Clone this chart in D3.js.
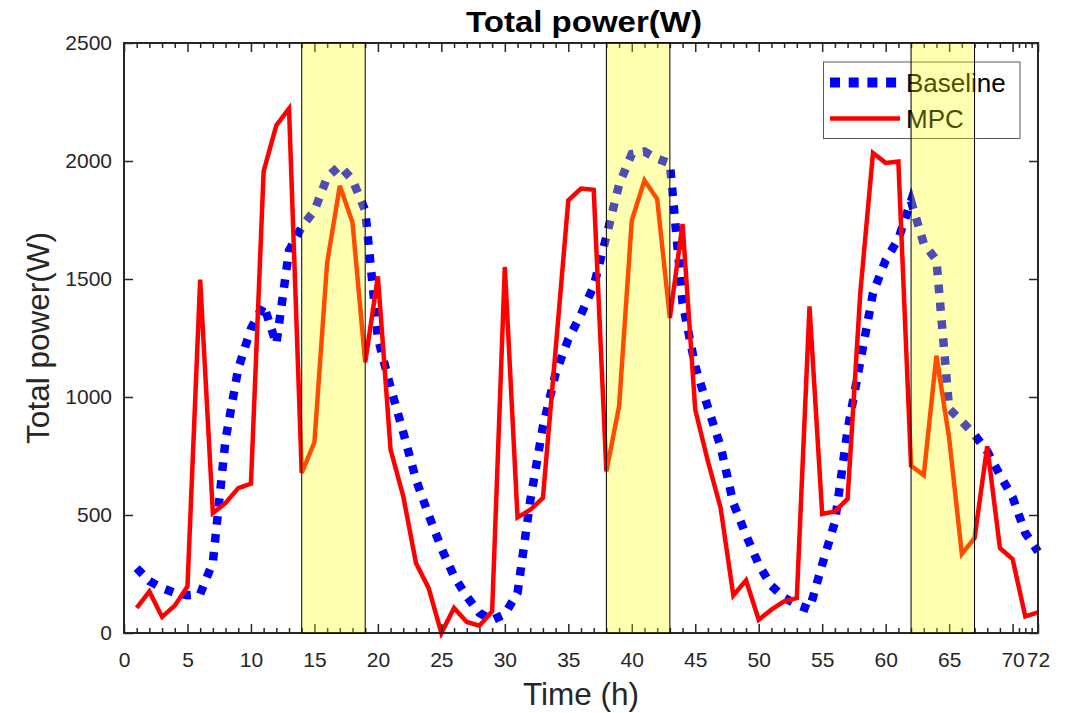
<!DOCTYPE html>
<html>
<head>
<meta charset="utf-8">
<script src="https://cdn.jsdelivr.net/npm/d3@7"></script>
<style>
  html, body { margin: 0; padding: 0; background: #fff; }
  svg { display: block; font-family: "Liberation Sans", Arial, Helvetica, sans-serif; }
</style>
</head>
<body>
<svg id="chart" width="1069" height="713"></svg>
<script>
// ---------------- data ----------------
const hours = [1,2,3,4,5,6,7,8,9,10,11,12,13,14,15,16,17,18,19,20,21,22,23,24,25,26,27,28,29,30,31,32,33,34,35,36,
               37,38,39,40,41,42,43,44,45,46,47,48,49,50,51,52,53,54,55,56,57,58,59,60,61,62,63,64,65,66,67,68,69,70,71,72];
const baseline = [275,220,190,170,160,165,300,820,1120,1290,1390,1225,1620,1720,1790,1930,1980,1920,1790,1250,1040,850,650,500,
                  360,240,155,85,55,80,170,560,875,1100,1245,1350,1470,1680,1900,2030,2040,2010,1990,1400,1130,955,790,550,
                  415,290,200,150,120,100,290,470,860,1150,1440,1580,1670,1830,1650,1580,950,897,840,770,670,575,424,345];
const mpc = [106,176,68,116,197,1497,508,551,614,633,1956,2151,2222,678,808,1568,1895,1740,1147,1511,777,579,297,190,
             0,106,47,31,92,1551,490,522,572,1200,1833,1883,1878,685,960,1748,1918,1839,1335,1733,946,727,530,159,
             223,56,99,134,148,1384,504,515,568,1440,2034,1992,1998,709,668,1175,826,335,402,791,360,313,70,87];
const shadeStart = [14, 38, 62];
const shadeEnd   = [19, 43, 67];
const xTickValues = [0,5,10,15,20,25,30,35,40,45,50,55,60,65,70,72];
const xMinorTicks = [1,2,3,4,6,7,8,9,11,12,13,14,16,17,18,19,21,22,23,24,26,27,28,29,31,32,33,34,36,37,38,39,
                     41,42,43,44,46,47,48,49,51,52,53,54,56,57,58,59,61,62,63,64,66,67,68,69,70.5,71,71.5];
const yTickValues = [0,500,1000,1500,2000,2500];
const seriesNames = ["Baseline", "MPC"];
const titleText = "Total power(W)";
const xLabelText = "Time (h)";
const yLabelText = "Total power(W)";

// ---------------- layout ----------------
const L = 124, R = 1038, T = 43, B = 633;
const svg = d3.select("#chart");
const x = d3.scaleLinear().domain([0, 72]).range([L, R]);
const y = d3.scaleLinear().domain([0, 2500]).range([B, T]);
const axisColor = "#262626";

// lines
const line = d3.line().x((d, i) => x(hours[i])).y(d => y(d));

svg.append("path")
  .datum(baseline)
  .attr("d", line)
  .attr("fill", "none")
  .attr("stroke", "#0000ff")
  .attr("stroke-width", 8.5)
  .attr("stroke-dasharray", "8.5,9.5")
  .attr("stroke-linecap", "butt");

svg.append("path")
  .datum(mpc)
  .attr("d", line)
  .attr("fill", "none")
  .attr("stroke", "#ff0000")
  .attr("stroke-width", 4.5)
  .attr("stroke-linejoin", "miter");

// axes
function styleAxis(g) {
  g.select(".domain").remove();
  g.selectAll(".tick line").attr("stroke", axisColor).attr("stroke-width", 1.5);
  g.selectAll(".tick text").attr("fill", axisColor).attr("font-size", 21)
    .attr("font-family", "'Liberation Sans', Arial, Helvetica, sans-serif");
}

svg.append("g").attr("transform", `translate(0,${B})`)
  .call(d3.axisBottom(x).tickValues(xTickValues).tickFormat(d3.format("d")).tickSizeInner(-9).tickSizeOuter(0).tickPadding(19))
  .call(styleAxis);
svg.append("g").attr("transform", `translate(0,${B})`)
  .call(d3.axisBottom(x).tickValues(xMinorTicks).tickFormat("").tickSizeInner(-5).tickSizeOuter(0))
  .call(styleAxis);
svg.append("g").attr("transform", `translate(0,${T})`)
  .call(d3.axisTop(x).tickValues(xTickValues).tickFormat("").tickSizeInner(-9).tickSizeOuter(0))
  .call(styleAxis);
svg.append("g").attr("transform", `translate(0,${T})`)
  .call(d3.axisTop(x).tickValues(xMinorTicks).tickFormat("").tickSizeInner(-5).tickSizeOuter(0))
  .call(styleAxis);
svg.append("g").attr("transform", `translate(${L},0)`)
  .call(d3.axisLeft(y).tickValues(yTickValues).tickFormat(d3.format("d")).tickSizeInner(-9).tickSizeOuter(0).tickPadding(12))
  .call(styleAxis);
svg.append("g").attr("transform", `translate(${R},0)`)
  .call(d3.axisRight(y).tickValues(yTickValues).tickFormat("").tickSizeInner(-9).tickSizeOuter(0))
  .call(styleAxis);

// box
svg.append("rect")
  .attr("x", L).attr("y", T).attr("width", R - L).attr("height", B - T)
  .attr("fill", "none").attr("stroke", axisColor).attr("stroke-width", 2);

// legend
const lg = svg.append("g");
lg.append("rect").attr("x", 823.5).attr("y", 62).attr("width", 196.5).attr("height", 76.5)
  .attr("fill", "#fff").attr("stroke", "#5a5a5a").attr("stroke-width", 1);
lg.append("line").attr("x1", 830).attr("x2", 897).attr("y1", 82.5).attr("y2", 82.5)
  .attr("stroke", "#0000ff").attr("stroke-width", 10).attr("stroke-dasharray", "10,8.7");
lg.append("line").attr("x1", 830).attr("x2", 900).attr("y1", 118.5).attr("y2", 118.5)
  .attr("stroke", "#ff0000").attr("stroke-width", 4.5);
lg.append("text").attr("x", 906).attr("y", 92).attr("font-size", 26).attr("fill", "#000").text(seriesNames[0]);
lg.append("text").attr("x", 906).attr("y", 128).attr("font-size", 26).attr("fill", "#000").text(seriesNames[1]);

// shaded periods (drawn on top, translucent)
svg.append("g").selectAll("rect")
  .data(shadeStart)
  .join("rect")
  .attr("x", (d) => x(d))
  .attr("y", y(2500))
  .attr("width", (d, i) => x(shadeEnd[i]) - x(d))
  .attr("height", y(0) - y(2500))
  .attr("fill", "rgba(255,255,0,0.3)")
  .attr("stroke", "#000")
  .attr("stroke-width", 1);

// titles
svg.append("text").attr("x", 584).attr("y", 32).attr("text-anchor", "middle")
  .attr("font-size", 29).attr("font-weight", "bold").attr("fill", "#000")
  .attr("textLength", 236).attr("lengthAdjust", "spacingAndGlyphs")
  .text(titleText);
svg.append("text").attr("x", 581).attr("y", 705).attr("text-anchor", "middle")
  .attr("font-size", 31.5).attr("fill", axisColor).text(xLabelText);
svg.append("text").attr("transform", `translate(49,${(T + B) / 2}) rotate(-90)`).attr("text-anchor", "middle")
  .attr("font-size", 31.5).attr("fill", axisColor).text(yLabelText);
</script>
</body>
</html>
